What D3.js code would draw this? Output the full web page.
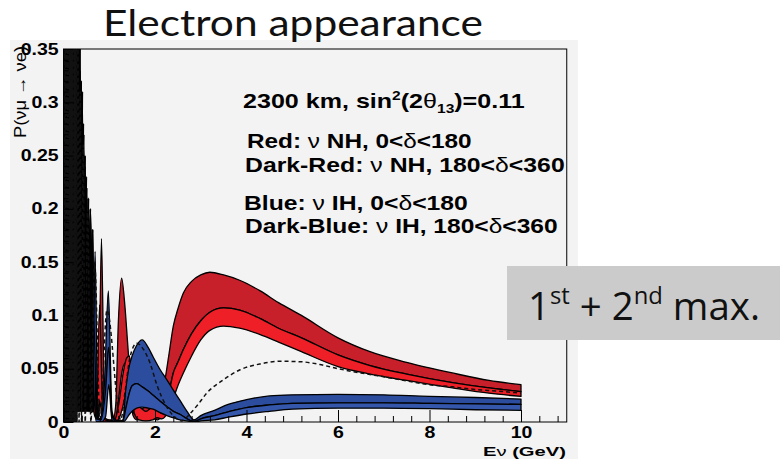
<!DOCTYPE html>
<html>
<head>
<meta charset="utf-8">
<script src="https://cdn.jsdelivr.net/npm/d3@7"></script>
<style>
  body { margin: 0; background: #ffffff; }
  svg { display: block; }
</style>
</head>
<body>
<svg id="chart" width="780" height="459"></svg>
<script>
// ---------------------------------------------------------------
// P(numu -> nue) at 2300 km, sin^2(2theta13)=0.11, bands over delta
// ---------------------------------------------------------------

// Axis ticks
const xTickValues = [0, 2, 4, 6, 8, 10];
const xTickLabels = ["0", "2", "4", "6", "8", "10"];
const yTickValues = [0, 0.05, 0.1, 0.15, 0.2, 0.25, 0.3, 0.35];
const yTickLabels = ["0", "0.05", "0.1", "0.15", "0.2", "0.25", "0.3", "0.35"];

// Dark-Red band, nu NH, 180<delta<360: [E (GeV), low edge, high edge]
const darkRedBand = [
  [0.01, 0, 0.6], [0.02, 0.6, 0], [0.03, 0, 0.6],
  [0.04, 0, 0.6], [0.06, 0.6, 0], [0.08, 0, 0.6], [0.10, 0.6, 0], [0.12, 0, 0.6],
  [0.14, 0.55, 0], [0.16, 0, 0.55], [0.18, 0.5, 0], [0.20, 0, 0.5], [0.22, 0.48, 0],
  [0.24, 0, 0.47], [0.26, 0.45, 0], [0.28, 0, 0.44], [0.30, 0.42, 0.01],
  [0.318, 0.01, 0.40], [0.338, 0.37, 0.01], [0.36, 0.01, 0.36], [0.385, 0.32, 0.01],
  [0.41, 0.01, 0.31], [0.44, 0.27, 0.01], [0.47, 0.01, 0.25], [0.505, 0.22, 0.01],
  [0.545, 0.01, 0.21], [0.59, 0.17, 0.01], [0.635, 0.01, 0.18], [0.70, 0.06, 0.02],
  [0.76, 0, 0.004], [0.83, 0.04, 0.172], [0.90, 0, 0.004], [1.0, 0, 0.002], [1.08, 0, 0.002],
  [1.14, 0.002, 0.015], [1.20, 0.02, 0.095], [1.27, 0.045, 0.135], [1.34, 0.055, 0.11],
  [1.40, 0.05, 0.075], [1.46, 0.03, 0.04], [1.52, 0.006, 0.01], [1.6, 0.002, 0.006],
  [1.7, 0.003, 0.012], [1.82, 0.006, 0.014], [1.95, 0.004, 0.012], [2.05, 0.002, 0.018],
  [2.15, 0.006, 0.025], [2.22, 0.012, 0.04], [2.3, 0.026, 0.062], [2.4, 0.046, 0.090],
  [2.5, 0.056, 0.106], [2.62, 0.068, 0.121], [2.8, 0.083, 0.132], [3.0, 0.095, 0.138],
  [3.2, 0.103, 0.1405], [3.5, 0.107, 0.138], [3.85, 0.105, 0.133], [4.3, 0.097, 0.123],
  [4.7, 0.088, 0.112], [5.2, 0.079, 0.100], [6.0, 0.063, 0.079], [6.7, 0.053, 0.066],
  [7.5, 0.045, 0.056], [8.5, 0.037, 0.046], [9.3, 0.032, 0.039], [10.0, 0.0285, 0.035]
];

// Red band, nu NH, 0<delta<180
const redBand = [
  [0.015, 0.5, 0], [0.025, 0, 0.5], [0.035, 0.5, 0],
  [0.045, 0.5, 0], [0.065, 0, 0.5], [0.085, 0.5, 0], [0.105, 0, 0.5], [0.125, 0.5, 0],
  [0.145, 0, 0.48], [0.165, 0.46, 0], [0.185, 0, 0.45], [0.205, 0.43, 0], [0.225, 0, 0.42],
  [0.245, 0.40, 0], [0.265, 0, 0.39], [0.29, 0.36, 0.01], [0.309, 0.01, 0.35],
  [0.328, 0.33, 0.01], [0.349, 0.01, 0.32], [0.372, 0.29, 0.01], [0.397, 0.01, 0.28],
  [0.425, 0.25, 0.01], [0.455, 0.01, 0.23], [0.488, 0.2, 0.01], [0.525, 0.01, 0.19],
  [0.567, 0.16, 0.01], [0.61, 0.01, 0.15], [0.66, 0.08, 0.01], [0.72, 0, 0.003],
  [0.79, 0.02, 0.11], [0.86, 0, 0.003], [1.0, 0, 0.001], [1.12, 0, 0.002],
  [1.22, 0.004, 0.02], [1.30, 0.015, 0.045], [1.38, 0.03, 0.06], [1.44, 0.036, 0.062],
  [1.49, 0.03, 0.042], [1.55, 0.008, 0.014], [1.65, 0.002, 0.014], [1.80, 0.001, 0.010],
  [1.95, 0.002, 0.014], [2.05, 0.004, 0.012], [2.15, 0.003, 0.008], [2.22, 0.005, 0.012],
  [2.3, 0.012, 0.026], [2.4, 0.022, 0.046], [2.5, 0.034, 0.056], [2.62, 0.046, 0.068],
  [2.8, 0.062, 0.083], [3.0, 0.077, 0.095], [3.2, 0.086, 0.103], [3.5, 0.090, 0.107],
  [3.85, 0.088, 0.105], [4.3, 0.082, 0.097], [4.7, 0.075, 0.088], [5.2, 0.066, 0.079],
  [6.0, 0.052, 0.063], [6.7, 0.045, 0.053], [7.5, 0.039, 0.045], [8.5, 0.032, 0.037],
  [9.3, 0.027, 0.032], [10.0, 0.024, 0.0285]
];

// Dark-Blue band, nu IH, 180<delta<360
const darkBlueBand = [
  [0.02, 0, 0.6], [0.03, 0.6, 0], [0.04, 0, 0.6],
  [0.05, 0, 0.6], [0.07, 0.6, 0], [0.09, 0, 0.6], [0.11, 0.55, 0], [0.13, 0, 0.55],
  [0.15, 0.52, 0], [0.17, 0, 0.5], [0.19, 0.48, 0], [0.21, 0, 0.46], [0.23, 0.44, 0],
  [0.25, 0, 0.43], [0.27, 0.41, 0], [0.294, 0.01, 0.39], [0.313, 0.37, 0.01],
  [0.333, 0.01, 0.36], [0.355, 0.33, 0.01], [0.378, 0.01, 0.32], [0.404, 0.29, 0.01],
  [0.432, 0.01, 0.28], [0.463, 0.24, 0.01], [0.498, 0.01, 0.23], [0.54, 0.19, 0.01],
  [0.585, 0.01, 0.2], [0.64, 0.1, 0.01], [0.69, 0.05, 0.16], [0.75, 0, 0.004],
  [0.82, 0, 0.003], [0.90, 0.01, 0.04], [0.98, 0.07, 0.123], [1.06, 0.005, 0.01],
  [1.14, 0, 0.002], [1.24, 0, 0.001], [1.30, 0.001, 0.002], [1.36, 0.012, 0.03],
  [1.42, 0.024, 0.049], [1.50, 0.034, 0.062], [1.60, 0.036, 0.072], [1.72, 0.033, 0.077],
  [1.85, 0.029, 0.070], [1.96, 0.025, 0.061], [2.10, 0.020, 0.050], [2.26, 0.0144, 0.0395],
  [2.40, 0.010, 0.030], [2.55, 0.007, 0.020], [2.70, 0.003, 0.010], [2.85, 0.0005, 0.002],
  [3.0, 0.003, 0.006], [3.3, 0.006, 0.011], [3.6, 0.0095, 0.0165], [4.0, 0.0135, 0.021],
  [4.5, 0.016, 0.0245], [5.0, 0.0175, 0.0255], [6.0, 0.018, 0.026], [7.0, 0.018, 0.0255],
  [8.0, 0.0175, 0.024], [9.0, 0.017, 0.023], [10.0, 0.0165, 0.0215]
];

// Blue band, nu IH, 0<delta<180
const blueBand = [
  [0.025, 0.5, 0], [0.035, 0, 0.5], [0.045, 0.5, 0],
  [0.055, 0.5, 0], [0.075, 0, 0.5], [0.095, 0.5, 0], [0.115, 0, 0.48], [0.135, 0.46, 0],
  [0.155, 0, 0.45], [0.175, 0.43, 0], [0.195, 0, 0.42], [0.215, 0.4, 0], [0.235, 0, 0.39],
  [0.255, 0.37, 0], [0.278, 0.01, 0.35], [0.302, 0.33, 0.01], [0.322, 0.01, 0.31],
  [0.343, 0.30, 0.01], [0.366, 0.01, 0.29], [0.39, 0.27, 0.01], [0.418, 0.01, 0.25],
  [0.447, 0.22, 0.01], [0.48, 0.01, 0.2], [0.518, 0.18, 0.01], [0.56, 0.01, 0.17],
  [0.61, 0.12, 0.01], [0.665, 0.03, 0.095], [0.72, 0, 0.003], [0.82, 0, 0.002],
  [0.92, 0.005, 0.03], [0.99, 0.035, 0.07], [1.06, 0.002, 0.006], [1.14, 0, 0.001],
  [1.24, 0, 0.001], [1.30, 0, 0.001], [1.36, 0.002, 0.012], [1.42, 0.006, 0.024],
  [1.50, 0.010, 0.034], [1.60, 0.013, 0.036], [1.72, 0.014, 0.033], [1.85, 0.013, 0.029],
  [1.96, 0.012, 0.025], [2.10, 0.009, 0.020], [2.26, 0.006, 0.0144], [2.40, 0.004, 0.010],
  [2.55, 0.002, 0.007], [2.70, 0.001, 0.003], [2.85, 0, 0.0005], [3.0, 0.001, 0.003],
  [3.3, 0.002, 0.006], [3.6, 0.0045, 0.0095], [4.0, 0.0075, 0.0135], [4.5, 0.010, 0.016],
  [5.0, 0.012, 0.0175], [6.0, 0.013, 0.018], [7.0, 0.013, 0.018], [8.0, 0.0125, 0.0175],
  [9.0, 0.0115, 0.017], [10.0, 0.011, 0.0165]
];

// Dashed reference curve: [E (GeV), P]
const dashedCurve = [
  [0.02, 0], [0.032, 0.7], [0.04, 0], [0.052, 0.7], [0.062, 0], [0.072, 0.7], [0.082, 0], [0.092, 0.65],
  [0.102, 0], [0.112, 0.62], [0.122, 0], [0.132, 0.6], [0.142, 0], [0.152, 0.58],
  [0.162, 0], [0.172, 0.55], [0.182, 0], [0.192, 0.52], [0.203, 0], [0.216, 0.5],
  [0.23, 0], [0.244, 0.47], [0.26, 0], [0.276, 0.43], [0.295, 0], [0.315, 0.37],
  [0.34, 0], [0.365, 0.31], [0.395, 0], [0.43, 0.26], [0.475, 0], [0.525, 0.2],
  [0.6, 0], [0.68, 0.15], [0.80, 0.002], [0.95, 0.105], [1.25, 0.002], [1.35, 0.03],
  [1.45, 0.06], [1.6, 0.074], [1.75, 0.068], [1.89, 0.0555], [2.04, 0.035],
  [2.26, 0.014], [2.45, 0.004], [2.58, 0.001], [2.77, 0.008], [2.95, 0.017],
  [3.13, 0.027], [3.49, 0.0395], [3.86, 0.049], [4.3, 0.0545], [4.75, 0.057],
  [5.2, 0.0565], [5.6, 0.054], [6.0, 0.050], [6.5, 0.046], [7.0, 0.0425],
  [7.5, 0.0385], [8.0, 0.035], [8.5, 0.033], [9.0, 0.0305], [9.5, 0.029], [10.0, 0.027]
];

// Legend lines
const legendLines = [
  { parts: [["2300 km, sin", "b"], ["2", "sup"], ["(2", "b"], ["θ", "n"], ["13", "sub"], [")=0.11", "b"]], x: 243, y: 108, w: 282 },
  { parts: [["Red: ", "b"], ["ν", "n"], [" NH, 0<", "b"], ["δ", "n"], ["<180", "b"]], x: 247, y: 148, w: 225 },
  { parts: [["Dark-Red: ", "b"], ["ν", "n"], [" NH, 180<", "b"], ["δ", "n"], ["<360", "b"]], x: 245, y: 172, w: 320 },
  { parts: [["Blue: ", "b"], ["ν", "n"], [" IH, 0<", "b"], ["δ", "n"], ["<180", "b"]], x: 244, y: 210, w: 224 },
  { parts: [["Dark-Blue: ", "b"], ["ν", "n"], [" IH, 180<", "b"], ["δ", "n"], ["<360", "b"]], x: 245, y: 233, w: 313 }
];

const svg = d3.select("#chart");
const W = 780, H = 459;

// Slide background and chart panel
svg.append("rect").attr("width", W).attr("height", H).attr("fill", "#ffffff");
svg.append("rect").attr("x", 10).attr("y", 40).attr("width", 568).attr("height", 419).attr("fill", "#f3f3f3");

const x = d3.scaleLinear().domain([0, 11]).range([63.5, 566.75]);
const y = d3.scaleLinear().domain([0, 0.35]).range([422, 49]);
const X0 = x(0), X1 = x(11), Y0 = y(0), Y1 = y(0.35);
const SX = 1.22; // horizontal stretch of the plot lettering

svg.append("clipPath").attr("id", "plotClip")
  .append("rect").attr("x", X0).attr("y", Y1).attr("width", X1 - X0).attr("height", Y0 - Y1);

const plot = svg.append("g").attr("clip-path", "url(#plotClip)");

const bandArea = d3.area()
  .x(d => x(d[0]))
  .y0(d => y(d[1]))
  .y1(d => y(d[2]))
  .curve(d3.curveMonotoneX);

const bandDefs = [
  { rows: darkRedBand, fill: "#c8202a" },
  { rows: redBand, fill: "#ee1f26" },
  { rows: darkBlueBand, fill: "#2c4c9e" },
  { rows: blueBand, fill: "#3457ab" }
];

bandDefs.forEach(b => {
  plot.append("path")
    .attr("d", bandArea(b.rows))
    .attr("fill", b.fill)
    .attr("stroke", "#000")
    .attr("stroke-width", 1.3)
    .attr("stroke-linejoin", "round");
});

// Heavier outlines where the oscillations pile up at low energy
bandDefs.forEach(b => {
  plot.append("path")
    .attr("d", bandArea(b.rows.filter(d => d[0] <= 0.64)))
    .attr("fill", "none")
    .attr("stroke", "#000")
    .attr("stroke-width", 1.9)
    .attr("stroke-linejoin", "round");
});

// Dashed curve
plot.append("path")
  .attr("d", d3.line().x(d => x(d[0])).y(d => y(d[1])).curve(d3.curveMonotoneX)(dashedCurve))
  .attr("fill", "none").attr("stroke", "#111").attr("stroke-width", 1.5)
  .attr("stroke-dasharray", "4,3");

// Frame
svg.append("rect")
  .attr("x", X0).attr("y", Y1).attr("width", X1 - X0).attr("height", Y0 - Y1)
  .attr("fill", "none").attr("stroke", "#000").attr("stroke-width", 1);

const tickFont = "'Liberation Sans', Arial, sans-serif";

// X axis: inward ticks
const xMinor = d3.range(0, 11, 0.4).filter(v => Math.abs(v / 2 - Math.round(v / 2)) > 1e-6);
svg.append("g").attr("transform", `translate(0,${Y0})`)
  .call(d3.axisBottom(x).tickValues(xMinor).tickSize(-6).tickFormat(""))
  .call(g => g.select(".domain").remove())
  .call(g => g.selectAll("line").attr("stroke", "#000"));

const xAxis = svg.append("g").attr("transform", `translate(0,${Y0})`)
  .call(d3.axisBottom(x).tickValues(xTickValues).tickSize(-12).tickPadding(5)
    .tickFormat((d, i) => xTickLabels[i]));
xAxis.select(".domain").remove();
xAxis.selectAll("line").attr("stroke", "#000");
xAxis.selectAll("text")
  .attr("font-family", tickFont)
  .attr("font-weight", "bold").attr("font-size", 16).attr("fill", "#000")
  .attr("transform", `scale(${SX},1)`);

// Y axis: inward ticks
const yMinor = d3.range(0, 0.351, 0.01).filter(v => Math.abs(v / 0.05 - Math.round(v / 0.05)) > 1e-6);
svg.append("g").attr("transform", `translate(${X0},0)`)
  .call(d3.axisLeft(y).tickValues(yMinor).tickSize(-5).tickFormat(""))
  .call(g => g.select(".domain").remove())
  .call(g => g.selectAll("line").attr("stroke", "#000"));

const yAxis = svg.append("g").attr("transform", `translate(${X0},0)`)
  .call(d3.axisLeft(y).tickValues(yTickValues).tickSize(-10).tickPadding(4)
    .tickFormat((d, i) => yTickLabels[i]));
yAxis.select(".domain").remove();
yAxis.selectAll("line").attr("stroke", "#000");
yAxis.selectAll("text")
  .attr("font-family", tickFont)
  .attr("font-weight", "bold").attr("font-size", 16).attr("fill", "#000")
  .attr("transform", `scale(${SX},1)`);

// Text helper: builds a text in a group, then stretches it horizontally to a width
function fittedText(x0, y0, width, parts, style) {
  const g = svg.append("g");
  const t = g.append("text")
    .attr("font-family", style.family)
    .attr("font-size", style.size)
    .attr("fill", style.fill || "#000");
  let shift = 0;
  parts.forEach(([str, kind]) => {
    const s = t.append("tspan").text(str);
    let target = 0;
    if (kind === "sup") { s.attr("font-size", style.size * 0.62); target = -style.size * 0.42; }
    if (kind === "sub") { s.attr("font-size", style.size * 0.62); target = style.size * 0.25; }
    s.attr("dy", target - shift);
    shift = target;
    s.attr("font-weight", kind === "n" ? "normal" : (style.weight || "normal"));
  });
  const w = t.node().getBBox().width;
  g.attr("transform", `translate(${x0},${y0}) scale(${width / w},1)`);
  return g;
}

// Legend block
legendLines.forEach(L => {
  fittedText(L.x, L.y, L.w, L.parts,
    { family: tickFont, size: 19.5, weight: "bold" });
});

// Axis titles
fittedText(483, 456, 83, [["E", "b"], ["ν", "n"], [" (GeV)", "b"]],
  { family: tickFont, size: 13.5, weight: "bold" });

const yTitle = svg.append("g").attr("transform", "translate(26,46) rotate(-90)");
const yTitleText = yTitle.append("text")
  .attr("font-family", tickFont)
  .attr("font-size", 13).attr("text-anchor", "end").attr("fill", "#000")
  .text("P(νμ → νe)");
{
  const w = yTitleText.node().getComputedTextLength();
  yTitleText.attr("transform", `scale(${92 / w},${SX})`);
}

// Slide title
fittedText(103, 36, 380, [["Electron appearance", "n"]],
  { family: "Lato, 'Open Sans', sans-serif", size: 36, fill: "#111" });

// Annotation box
svg.append("rect").attr("x", 507).attr("y", 266).attr("width", 273).attr("height", 74).attr("fill", "#cbcbcb");
fittedText(528, 320, 232, [["1", "n"], ["st", "sup"], [" + 2", "n"], ["nd", "sup"], [" max.", "n"]],
  { family: "'Open Sans', 'Noto Sans', sans-serif", size: 38, fill: "#111" });
</script>
</body>
</html>
